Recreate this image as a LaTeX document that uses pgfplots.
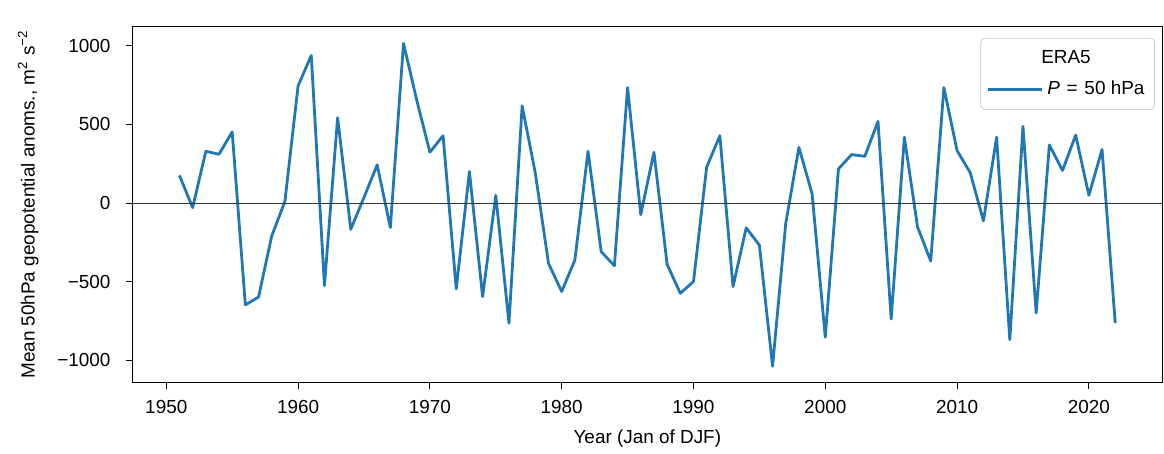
\documentclass[border=0pt]{standalone}
\usepackage{fontspec}
\setmainfont{Liberation Sans}
\usepackage{pgfplots}
\pgfplotsset{compat=1.18}
\definecolor{mplblue}{HTML}{1F77B4}

\pgfplotstableread{
year z
1951 175
1952 -30
1953 329
1954 310
1955 452
1956 -648
1957 -598
1958 -210
1959 10
1960 745
1961 938
1962 -525
1963 542
1964 -167
1965 35
1966 243
1967 -156
1968 1015
1969 655
1970 323
1971 428
1972 -546
1973 200
1974 -595
1975 49
1976 -764
1977 618
1978 190
1979 -384
1980 -563
1981 -363
1982 329
1983 -310
1984 -399
1985 734
1986 -74
1987 323
1988 -390
1989 -574
1990 -500
1991 228
1992 428
1993 -532
1994 -158
1995 -268
1996 -1038
1997 -130
1998 354
1999 59
2000 -854
2001 217
2002 308
2003 297
2004 519
2005 -738
2006 418
2007 -152
2008 -369
2009 734
2010 333
2011 192
2012 -114
2013 418
2014 -869
2015 487
2016 -700
2017 369
2018 207
2019 432
2020 49
2021 340
2022 -764
}\era

\newlength\legw
\newcommand\pentry{\textit{P}\hspace{3.4pt}=\hspace{3.4pt}50 hPa}

\begin{document}
\fontsize{9.5}{11.4}\selectfont
\settowidth\legw{\pentry}
\begin{tikzpicture}
\begin{axis}[
    scale only axis,
    width=517pt, height=178.5pt,
    xmin=1947.45, xmax=2025.55,
    ymin=-1140, ymax=1120,
    xtick={1950,1960,1970,1980,1990,2000,2010,2020},
    xticklabels={1950,1960,1970,1980,1990,2000,2010,2020},
    ytick={-1000,-500,0,500,1000},
    yticklabels={−1000,−500,0,500,1000},
    tick pos=left,
    tick align=outside,
    major tick length=3.3pt,
    tick style={black, line width=0.45pt},
    axis line style={line width=0.45pt},
    xticklabel style={yshift=-2.5pt},
    yticklabel style={xshift=-4.5pt},
    xlabel={Year (Jan of DJF)},
    ylabel={Mean 50hPa geopotential anoms., m\textsuperscript{2} s\textsuperscript{−2}},
    xlabel style={at={(axis description cs:0.5,0)}, anchor=center, yshift=-28.5pt},
    ylabel style={at={(axis description cs:-0.1015,0.5)}, anchor=center},
    legend style={at={(0.993,0.969)}, anchor=north east, draw=black!20,
        rounded corners=2pt, fill=white, row sep=3.5pt, inner xsep=3pt, inner ysep=4pt},
    legend cell align=left,
    legend image code/.code={\draw[#1] (0pt,0pt) -- (22pt,0pt); \path (0pt,0pt) -- (27pt,0pt);},
]
\addlegendimage{empty legend}
\addlegendentry{\hspace*{-15pt}\makebox[\legw][c]{ERA5}}
\addplot[mplblue, line width=1.4pt, line join=round] table[x=year, y=z] {\era};
\addlegendentry{\pentry}
\addplot[black!80, line width=0.45pt, forget plot] coordinates {(1947.45,0) (2025.55,0)};
\end{axis}
\pgfresetboundingbox
\path ([shift={(-64pt,-36pt)}]current axis.south west) rectangle ([shift={(1pt,13.5pt)}]current axis.north east);
\end{tikzpicture}
\end{document}
